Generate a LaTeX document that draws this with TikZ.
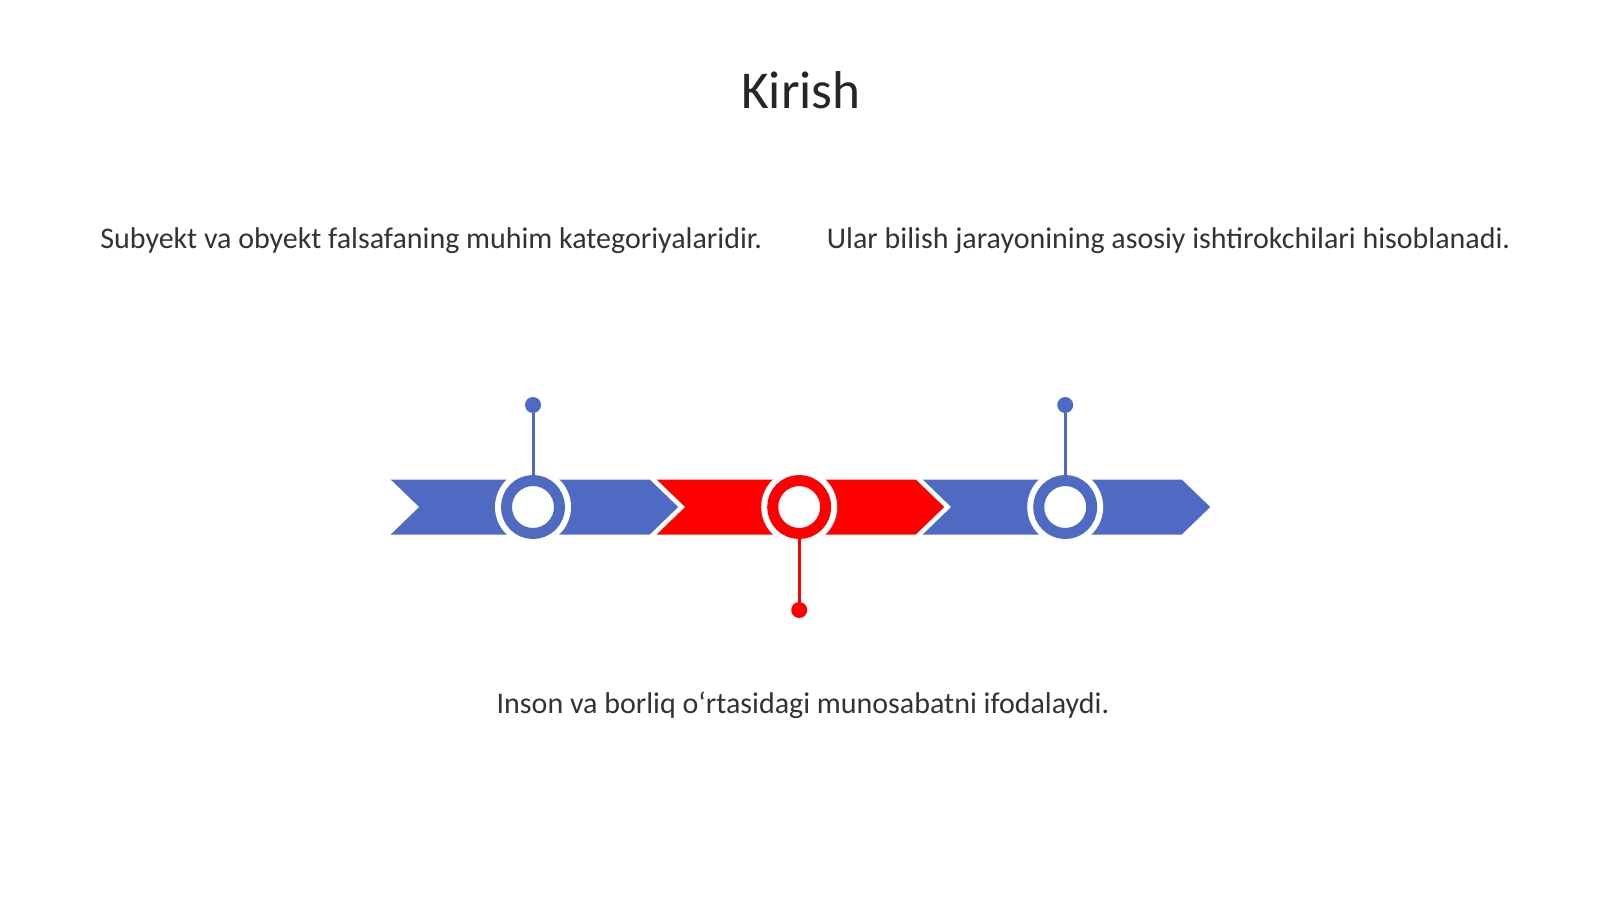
\documentclass[tikz,border=0pt]{standalone}
\usepackage{fontspec}
\setmainfont{Carlito}
\definecolor{tlblue}{HTML}{4F6AC3}
\definecolor{tlred}{HTML}{FF0000}
\definecolor{txtgray}{HTML}{333333}
\definecolor{titlegray}{HTML}{262626}
\begin{document}
\begin{tikzpicture}[x=0.5pt,y=-0.5pt,
  bodytext/.style={inner sep=0pt,text=txtgray,font=\fontsize{15}{18}\selectfont},
  halo/.style={circle,fill=white,inner sep=0pt,minimum size=38pt},
  ring/.style={circle,draw=#1,line width=5.5pt,fill=white,inner sep=0pt,minimum size=26.5pt},
  dot/.style={circle,fill=#1,inner sep=0pt,minimum size=8pt},
  stem/.style={draw=#1,line width=1.5pt}]
\useasboundingbox (0,0) rectangle (1600,899);
\fill[white] (0,0) rectangle (1600,899);
% title
\node[inner sep=0pt,text=titlegray,font=\fontsize{26.6}{32}\selectfont,anchor=base] (title) at (801,109) {Kirish};
% texts
\node[bodytext,anchor=base west] (t1) at (100,248) {Subyekt va obyekt falsafaning muhim kategoriyalaridir.};
\node[bodytext,anchor=base west] (t2) at (826.5,248) {Ular bilish jarayonining asosiy ishtirokchilari hisoblanadi.};
\node[bodytext,anchor=base] (t3) at (803,713) {Inson va borliq o‘rtasidagi munosabatni ifodalaydi.};
% chevrons
\foreach \x/\c in {390.7/tlblue,656.7/tlred,922.7/tlblue}{
  \fill[\c] (\x,479.5) -- ++(259,0) -- ++(28.5,27.5) -- ++(-28.5,27.5) -- ++(-259,0) -- ++(28.5,-27.5) -- cycle;
}
% circles
\node[halo] (h1) at (533,507) {};
\node[halo] (h2) at (799.2,507) {};
\node[halo] (h3) at (1065.2,507) {};
\node[ring=tlblue] (r1) at (533,507) {};
\node[ring=tlred] (r2) at (799.2,507) {};
\node[ring=tlblue] (r3) at (1065.2,507) {};
% dots and stems
\node[dot=tlblue] (d1) at (533,405) {};
\node[dot=tlred] (d2) at (799.2,610) {};
\node[dot=tlblue] (d3) at (1065.2,405) {};
\draw[stem=tlblue] (d1) -- (r1);
\draw[stem=tlred] (d2) -- (r2);
\draw[stem=tlblue] (d3) -- (r3);
\end{tikzpicture}
\end{document}
